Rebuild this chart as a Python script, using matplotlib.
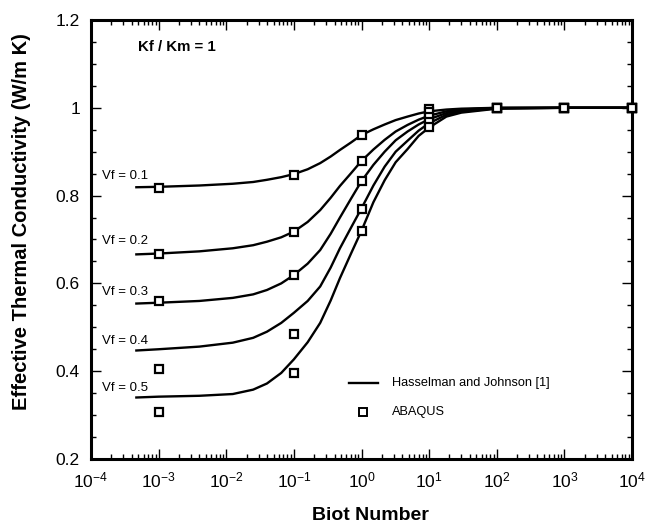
import numpy as np
import matplotlib
matplotlib.use('Agg')
import matplotlib.pyplot as plt
from matplotlib.ticker import LogLocator, MultipleLocator, FuncFormatter, NullFormatter

plt.rcParams['font.family'] = ['Liberation Sans', 'DejaVu Sans']
plt.rcParams['mathtext.fontset'] = 'custom'
plt.rcParams['mathtext.rm'] = 'Liberation Sans'
plt.rcParams['mathtext.it'] = 'Liberation Sans:italic'
plt.rcParams['mathtext.bf'] = 'Liberation Sans:bold'

# Hasselman and Johnson curves
bi_line = [4.5e-4, 1e-3, 4e-3, 1.25e-2, 2.5e-2, 4e-2, 6.5e-2, 0.1, 0.16, 0.245, 0.35, 0.48,
           0.7, 1, 1.5, 2.2, 3.2, 4.8, 7, 10, 18, 30, 100, 1e3, 1e4]
hj_01 = [0.819, 0.820, 0.823, 0.827, 0.831, 0.836, 0.842, 0.849, 0.860, 0.874, 0.889, 0.904,
         0.921, 0.938, 0.951, 0.962, 0.972, 0.980, 0.987, 0.992, 0.996, 0.998, 1.0, 1.0, 1.0]
hj_02 = [0.666, 0.668, 0.673, 0.680, 0.687, 0.695, 0.705, 0.718, 0.740, 0.767, 0.795, 0.822,
         0.851, 0.879, 0.905, 0.927, 0.946, 0.961, 0.973, 0.982, 0.992, 0.996, 1.0, 1.0, 1.0]
hj_03 = [0.554, 0.556, 0.560, 0.567, 0.575, 0.585, 0.600, 0.619, 0.645, 0.676, 0.713, 0.750,
         0.793, 0.833, 0.870, 0.900, 0.926, 0.946, 0.962, 0.974, 0.988, 0.994, 0.999, 1.0, 1.0]
hj_04 = [0.447, 0.450, 0.456, 0.465, 0.476, 0.490, 0.510, 0.533, 0.560, 0.593, 0.636, 0.680,
         0.727, 0.771, 0.823, 0.866, 0.900, 0.925, 0.948, 0.965, 0.984, 0.991, 0.999, 1.0, 1.0]
hj_05 = [0.340, 0.342, 0.344, 0.348, 0.358, 0.372, 0.396, 0.427, 0.466, 0.510, 0.561, 0.612,
         0.668, 0.720, 0.785, 0.835, 0.876, 0.906, 0.936, 0.955, 0.980, 0.989, 0.998, 1.0, 1.0]

# ABAQUS results
bi_fe = [1e-3, 1e-1, 1, 10, 100, 1e3, 1e4]
fe_01 = [0.818, 0.847, 0.938, 0.998, 1.0, 1.0, 1.0]
fe_02 = [0.667, 0.717, 0.878, 0.990, 1.0, 1.0, 1.0]
fe_03 = [0.559, 0.619, 0.833, 0.980, 1.0, 1.0, 1.0]
fe_04 = [0.405, 0.485, 0.770, 0.968, 1.0, 1.0, 1.0]
fe_05 = [0.306, 0.396, 0.719, 0.956, 1.0, 1.0, 1.0]

vf_labels = ['Vf = 0.1', 'Vf = 0.2', 'Vf = 0.3', 'Vf = 0.4', 'Vf = 0.5']
label_y = [0.845, 0.697, 0.580, 0.469, 0.362]

fig = plt.figure(figsize=(6.46, 5.27), dpi=100)
ax = fig.add_axes([91/646, 68/527, 541/646, 439/527])

for hj in [hj_01, hj_02, hj_03, hj_04, hj_05]:
    ax.plot(bi_line, hj, color='black', lw=1.7, solid_capstyle='butt', zorder=2)
for fe in [fe_01, fe_02, fe_03, fe_04, fe_05]:
    ax.plot(bi_fe, fe, ls='none', marker='s', ms=6, mfc='white', mec='black', mew=1.6, zorder=3,
            clip_on=False)

for lab, y in zip(vf_labels, label_y):
    ax.text(1.46e-4, y, lab, fontsize=9.5, ha='left', va='center')

ax.text(4.96e-4, 1.138, 'Kf / Km = 1', fontsize=10.8, fontweight='bold', ha='left', va='center')

# legend drawn by hand
ax.plot([0.477, 0.531], [0.172, 0.172], color='black', lw=1.7, transform=ax.transAxes)
ax.text(0.556, 0.172, 'Hasselman and Johnson [1]', fontsize=9.2, ha='left', va='center',
        transform=ax.transAxes)
ax.plot([0.502], [0.108], ls='none', marker='s', ms=6, mfc='white', mec='black', mew=1.4,
        transform=ax.transAxes)
ax.text(0.556, 0.108, 'ABAQUS', fontsize=9.2, ha='left', va='center', transform=ax.transAxes)

ax.set_xscale('log')
ax.set_xlim(1e-4, 1e4)
ax.set_ylim(0.2, 1.2)
ax.xaxis.set_major_locator(LogLocator(base=10, numticks=20))
ax.xaxis.set_minor_locator(LogLocator(base=10, subs=np.arange(2, 10), numticks=100))
ax.xaxis.set_minor_formatter(NullFormatter())
ax.xaxis.set_major_formatter(FuncFormatter(lambda v, p: r'$10^{%d}$' % round(np.log10(v))))
ax.yaxis.set_major_locator(MultipleLocator(0.2))
ax.yaxis.set_minor_locator(MultipleLocator(0.05))
ax.yaxis.set_major_formatter(FuncFormatter(lambda v, p: '%g' % round(v, 2)))

ax.tick_params(which='both', direction='in', top=True, right=True, width=1.0, labelsize=12.5)
ax.tick_params(which='major', length=7, pad=8)
ax.tick_params(which='minor', length=3.5)
for s in ax.spines.values():
    s.set_linewidth(2.2)

fig.text(22/646, 1 - 222/527, 'Effective Thermal Conductivity (W/m K)', rotation=90,
         fontsize=14.5, fontweight='bold', ha='center', va='center')
fig.text(370/646, 1 - 515/527, 'Biot Number', fontsize=14, fontweight='bold',
         ha='center', va='center')

fig.savefig('out.png', dpi=100)
